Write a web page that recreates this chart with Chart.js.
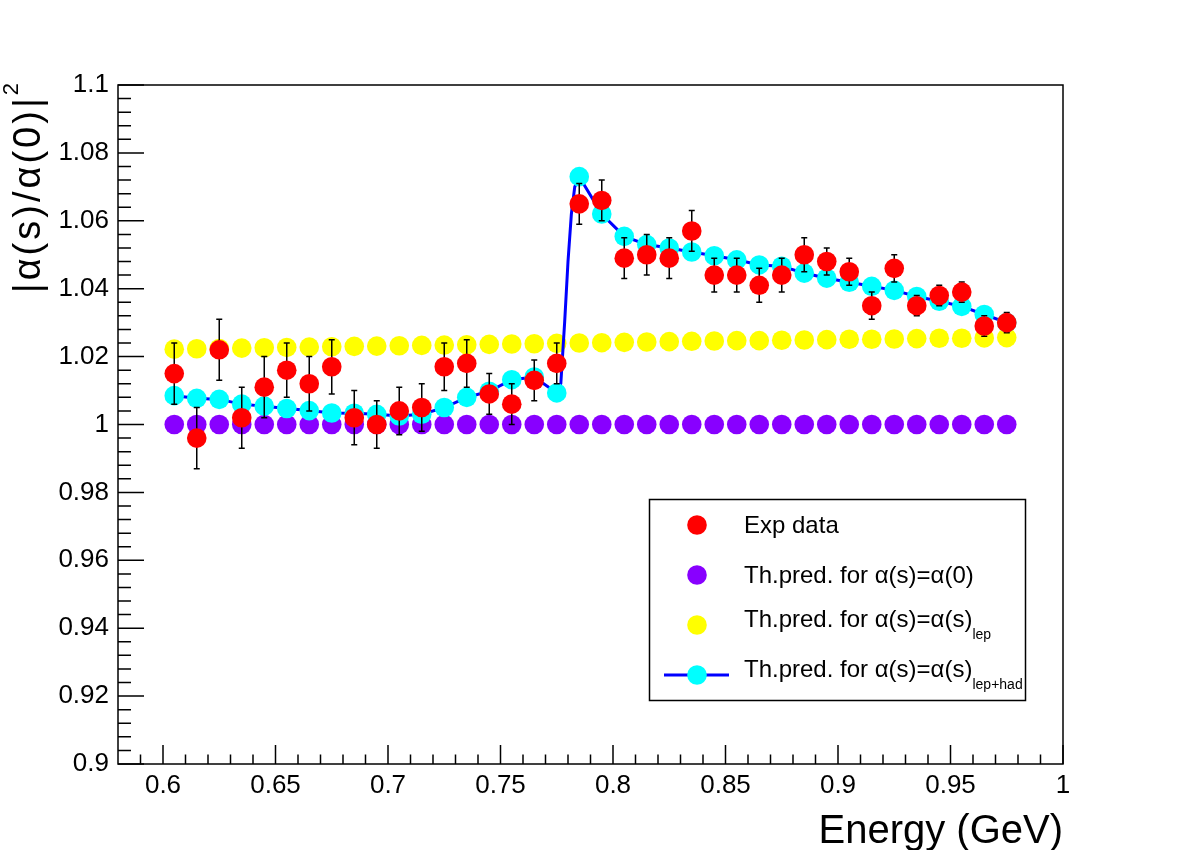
<!DOCTYPE html>
<html>
<head>
<meta charset="utf-8">
<script src="https://cdn.jsdelivr.net/npm/chart.js@4.4.0/dist/chart.umd.min.js"></script>
<style>
  html, body { margin: 0; padding: 0; background: #fff; }
</style>
</head>
<body>
<canvas id="alphaChart" width="1182" height="850"></canvas>
<script>
// energy bins (GeV)
var energy = [0.605, 0.615, 0.625, 0.635, 0.645, 0.655, 0.665, 0.675, 0.685, 0.695,
              0.705, 0.715, 0.725, 0.735, 0.745, 0.755, 0.765, 0.775, 0.785, 0.795,
              0.805, 0.815, 0.825, 0.835, 0.845, 0.855, 0.865, 0.875, 0.885, 0.895,
              0.905, 0.915, 0.925, 0.935, 0.945, 0.955, 0.965, 0.975];

// measured |alpha(s)/alpha(0)|^2 and its error
var expData = [1.015, 0.996, 1.022, 1.002, 1.011, 1.016, 1.012, 1.017, 1.002, 1.000,
               1.004, 1.005, 1.017, 1.018, 1.009, 1.006, 1.013, 1.018, 1.065, 1.066,
               1.049, 1.050, 1.049, 1.057, 1.044, 1.044, 1.041, 1.044, 1.050, 1.048,
               1.045, 1.035, 1.046, 1.035, 1.038, 1.039, 1.029, 1.030];
var expErr = [0.009, 0.009, 0.009, 0.009, 0.009, 0.008, 0.008, 0.008, 0.008, 0.007,
              0.007, 0.007, 0.007, 0.007, 0.006, 0.006, 0.006, 0.006, 0.006, 0.006,
              0.006, 0.006, 0.006, 0.006, 0.005, 0.005, 0.005, 0.005, 0.005, 0.004,
              0.004, 0.004, 0.004, 0.003, 0.003, 0.003, 0.003, 0.003];

// predictions
var predZero = [1, 1, 1, 1, 1, 1, 1, 1, 1, 1, 1, 1, 1, 1, 1, 1, 1, 1, 1,
                1, 1, 1, 1, 1, 1, 1, 1, 1, 1, 1, 1, 1, 1, 1, 1, 1, 1, 1];
var predLep = [1.0222, 1.0223, 1.0224, 1.0225, 1.0226, 1.0227, 1.0228, 1.0229, 1.0230, 1.0231,
               1.0232, 1.0233, 1.0234, 1.0235, 1.0236, 1.0237, 1.0238, 1.0239, 1.0240, 1.0241,
               1.0242, 1.0243, 1.0244, 1.0245, 1.0246, 1.0247, 1.0247, 1.0248, 1.0249, 1.0250,
               1.0251, 1.0251, 1.0252, 1.0253, 1.0254, 1.0254, 1.0255, 1.0256];
var predLepHad = [1.0085, 1.0077, 1.0074, 1.0060, 1.0054, 1.0047, 1.0041, 1.0034, 1.0033, 1.0030,
                  1.0025, 1.0030, 1.0050, 1.0080, 1.0098, 1.0132, 1.0140, 1.0093, 1.0730, 1.0620,
                  1.0554, 1.0530, 1.0520, 1.0508, 1.0497, 1.0485, 1.0470, 1.0466, 1.0446, 1.0431,
                  1.0419, 1.0407, 1.0395, 1.0377, 1.0363, 1.0348, 1.0324, 1.0300];

// extra points of the lep+had curve across the rho-omega step
var jumpEnergy = [0.7768, 0.7785, 0.7800, 0.7815, 0.7830];
var jumpValues = [1.012, 1.030, 1.048, 1.062, 1.070];

var xTickLabels = [0.6, 0.65, 0.7, 0.75, 0.8, 0.85, 0.9, 0.95, 1];
var yTickLabels = [0.9, 0.92, 0.94, 0.96, 0.98, 1, 1.02, 1.04, 1.06, 1.08, 1.1];

var legendLabels = ["Exp data", "Th.pred. for \u03b1(s)=\u03b1(0)", "Th.pred. for \u03b1(s)=\u03b1(s)", "Th.pred. for \u03b1(s)=\u03b1(s)"];
var legendSubs = ["", "", "lep", "lep+had"];
var legendColors = ["#ff0000", "#8800ff", "#ffff00", "#00ffff"];

var FONT = "'Liberation Sans', Arial, sans-serif";

function pairs(xs, ys) {
    return xs.map(function(x, i) { return {x: x, y: ys[i]}; });
}

var curve = pairs(energy, predLepHad).concat(pairs(jumpEnergy, jumpValues));
curve.sort(function(a, b) { return a.x - b.x; });

var errorBars = {
    id: "errorBars",
    beforeDatasetDraw: function(chart, args) {
        if (args.index !== 0) return;
        var ctx = chart.ctx, xs = chart.scales.x, ys = chart.scales.y;
        ctx.save();
        ctx.strokeStyle = "#000";
        ctx.lineWidth = 1.5;
        energy.forEach(function(e, i) {
            var px = xs.getPixelForValue(e);
            var top = ys.getPixelForValue(expData[i] + expErr[i]);
            var bot = ys.getPixelForValue(expData[i] - expErr[i]);
            ctx.beginPath();
            ctx.moveTo(px, top); ctx.lineTo(px, bot);
            ctx.moveTo(px - 3, top); ctx.lineTo(px + 3, top);
            ctx.moveTo(px - 3, bot); ctx.lineTo(px + 3, bot);
            ctx.stroke();
        });
        ctx.restore();
    }
};

var frameAndText = {
    id: "frameAndText",
    afterDraw: function(chart) {
        var ctx = chart.ctx, a = chart.chartArea;
        var xs = chart.scales.x, ys = chart.scales.y;
        ctx.save();
        ctx.strokeStyle = "#000";
        ctx.lineWidth = 1.5;
        ctx.strokeRect(a.left, a.top, a.right - a.left, a.bottom - a.top);

        // ticks (inside, root style)
        ctx.beginPath();
        yTickLabels.forEach(function(v) {
            var py = ys.getPixelForValue(v);
            ctx.moveTo(a.left, py); ctx.lineTo(a.left + 26, py);
        });
        for (var k = 0; k <= 50; k++) {
            var py = ys.getPixelForValue(0.9 + k * 0.004);
            ctx.moveTo(a.left, py); ctx.lineTo(a.left + 13, py);
        }
        xTickLabels.forEach(function(v) {
            var px = xs.getPixelForValue(v);
            ctx.moveTo(px, a.bottom); ctx.lineTo(px, a.bottom - 19);
        });
        for (var m = 59; m <= 100; m++) {
            var px = xs.getPixelForValue(m / 100);
            ctx.moveTo(px, a.bottom); ctx.lineTo(px, a.bottom - 9.5);
        }
        ctx.stroke();

        // axis titles
        ctx.fillStyle = "#000";
        ctx.font = "40px " + FONT;
        ctx.textAlign = "right";
        ctx.textBaseline = "alphabetic";
        ctx.fillText("Energy (GeV)", a.right, 843);

        var main = "|\u03b1(s)/\u03b1(0)|";
        ctx.letterSpacing = "3px";
        ctx.font = "38px " + FONT;
        var w1 = ctx.measureText(main).width;
        ctx.letterSpacing = "0px";
        ctx.font = "22px " + FONT;
        var w2 = ctx.measureText("2").width;
        ctx.save();
        ctx.translate(40, 83 + w1 + w2);
        ctx.rotate(-Math.PI / 2);
        ctx.textAlign = "left";
        ctx.letterSpacing = "3px";
        ctx.font = "38px " + FONT;
        ctx.fillText(main, 0, 0);
        ctx.letterSpacing = "0px";
        ctx.font = "22px " + FONT;
        ctx.fillText("2", w1, -22);
        ctx.restore();

        // legend
        var lx = 649.5, ly = 499.5, lw = 376, lh = 201;
        ctx.fillStyle = "#fff";
        ctx.fillRect(lx, ly, lw, lh);
        ctx.strokeStyle = "#000";
        ctx.lineWidth = 1.5;
        ctx.strokeRect(lx, ly, lw, lh);
        legendLabels.forEach(function(label, i) {
            var cy = 525 + i * 50;
            if (i === 3) {
                ctx.strokeStyle = "#0000ff";
                ctx.lineWidth = 3;
                ctx.beginPath();
                ctx.moveTo(664, cy); ctx.lineTo(729, cy);
                ctx.stroke();
            }
            ctx.fillStyle = legendColors[i];
            ctx.beginPath();
            ctx.arc(697, cy, 9.8, 0, Math.PI * 2);
            ctx.fill();
            ctx.fillStyle = "#000";
            ctx.textAlign = "left";
            ctx.font = "24px " + FONT;
            var base = legendSubs[i] ? cy + 2 : cy + 8;
            ctx.fillText(label, 744, base);
            if (legendSubs[i]) {
                var tw = ctx.measureText(label).width;
                ctx.font = "14px " + FONT;
                ctx.fillText(legendSubs[i], 744 + tw, base + 12);
            }
        });
        ctx.restore();
    }
};

var ctxAlpha = document.getElementById("alphaChart");

new Chart(ctxAlpha, {
    type: "scatter",
    data: {
        datasets: [
            {
                label: "Exp data",
                data: pairs(energy, expData),
                backgroundColor: "#ff0000",
                pointRadius: 9.8,
                pointBorderWidth: 0,
                order: 1
            },
            {
                label: "lep+had",
                data: pairs(energy, predLepHad),
                backgroundColor: "#00ffff",
                pointRadius: 9.8,
                pointBorderWidth: 0,
                order: 2
            },
            {
                label: "lep+had curve",
                data: curve,
                showLine: true,
                borderColor: "#0000ff",
                borderWidth: 3,
                pointRadius: 0,
                tension: 0,
                order: 3
            },
            {
                label: "lep",
                data: pairs(energy, predLep),
                backgroundColor: "#ffff00",
                pointRadius: 9.8,
                pointBorderWidth: 0,
                order: 4
            },
            {
                label: "alpha(0)",
                data: pairs(energy, predZero),
                backgroundColor: "#8800ff",
                pointRadius: 9.8,
                pointBorderWidth: 0,
                order: 5
            }
        ]
    },
    options: {
        responsive: false,
        animation: false,
        devicePixelRatio: 1,
        layout: {
            padding: { left: 0, top: 85, right: 119, bottom: 0 }
        },
        plugins: {
            legend: { display: false },
            tooltip: { enabled: false }
        },
        scales: {
            x: {
                type: "linear",
                min: 0.58,
                max: 1.0,
                grid: { display: false, drawTicks: false },
                border: { display: false },
                afterFit: function(scale) { scale.height = 86; },
                afterBuildTicks: function(scale) {
                    scale.ticks = xTickLabels.map(function(v) { return {value: v}; });
                },
                ticks: {
                    padding: 6,
                    maxRotation: 0,
                    autoSkip: false,
                    color: "#000",
                    font: { family: FONT, size: 26 },
                    callback: function(v) { return String(Number(v.toFixed(2))); }
                }
            },
            y: {
                type: "linear",
                min: 0.9,
                max: 1.1,
                grid: { display: false, drawTicks: false },
                border: { display: false },
                afterFit: function(scale) { scale.width = 118; },
                afterBuildTicks: function(scale) {
                    scale.ticks = yTickLabels.map(function(v) { return {value: v}; });
                },
                ticks: {
                    padding: 9,
                    autoSkip: false,
                    color: "#000",
                    font: { family: FONT, size: 26 },
                    callback: function(v) { return String(Number(v.toFixed(2))); }
                }
            }
        }
    },
    plugins: [errorBars, frameAndText]
});
</script>
</body>
</html>
